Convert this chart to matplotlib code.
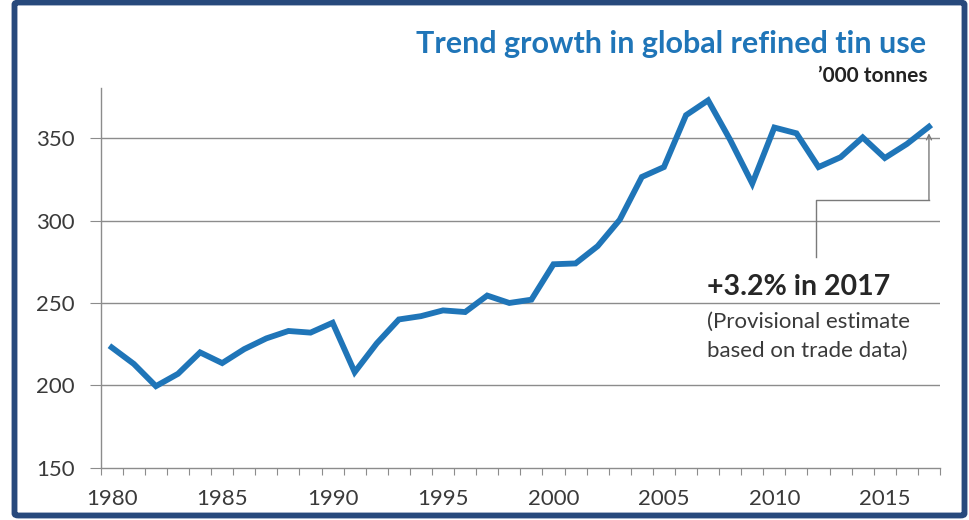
import matplotlib
matplotlib.use("Agg")
import matplotlib.pyplot as plt
from matplotlib.patches import FancyBboxPatch
import numpy as np

years = list(range(1980, 2018))
tin_use = [223, 213, 199.5, 207, 220, 213.5, 222, 228.5, 233, 232, 238,
           208, 225.5, 240, 242, 245.5, 244.5, 254.5, 250, 252,
           273.5, 274, 284.5, 300.5, 326.5, 332.5, 364, 373, 349, 322.5,
           356.5, 353, 332.5, 338.5, 350.5, 338, 346.5, 357]
yticks = [150, 200, 250, 300, 350]
xtick_labels = ["1980", "1985", "1990", "1995", "2000", "2005", "2010", "2015"]

title = "Trend growth in global refined tin use"
subtitle = "\u2019000 tonnes"
note_main = "+3.2% in 2017"
note_sub1 = "(Provisional estimate"
note_sub2 = "based on trade data)"

plt.rcParams['font.family'] = ['Lato', 'DejaVu Sans']

W, H = 969, 520
fig = plt.figure(figsize=(W/100, H/100), dpi=100)

blue = "#1f75b8"
grid_c = "#8c8c8c"
txt_c = "#3a3a3a"

# border
border = FancyBboxPatch((14.5/W, 4.5/H), (964.5-14.5)/W, (517.5-4.5)/H,
                        boxstyle="round,pad=0,rounding_size=0.004",
                        transform=fig.transFigure, fill=False,
                        edgecolor="#27497c", linewidth=4.2, zorder=0)
fig.patches.append(border)

left, right, top, bottom = 100.7, 940, 88, 467.7
ax = fig.add_axes([left/W, 1-bottom/H, (right-left)/W, (bottom-top)/H])
x = np.arange(len(years))
ax.plot(x, tin_use, color=blue, lw=4.2, solid_joinstyle='miter', zorder=3)

ax.set_xlim(-0.5, len(years)-0.5)
ax.set_ylim(150, 380.5)
ax.set_yticks(yticks)
ax.set_yticklabels([str(v) for v in yticks], fontsize=16, color=txt_c)
for v in yticks[1:]:
    ax.axhline(v, color=grid_c, lw=1.0, zorder=1)

ax.set_xticks(np.arange(len(years)+1)-0.5)
ax.set_xticklabels([])
lab_pos = [years.index(int(l)) for l in xtick_labels]
ax.set_xticks(lab_pos, minor=True)
ax.set_xticklabels(xtick_labels, minor=True, fontsize=16, color=txt_c)
ax.tick_params(axis='x', which='major', length=5, color=grid_c, direction='out')
ax.tick_params(axis='x', which='minor', length=0, pad=15.5)
ax.tick_params(axis='y', length=8, color=grid_c, pad=10.5)

for s in ['top', 'right']:
    ax.spines[s].set_visible(False)
for s in ['left', 'bottom']:
    ax.spines[s].set_color(grid_c)
    ax.spines[s].set_linewidth(1.0)

# annotation connector
i17 = years.index(2017)
i_mid = i17 - (928 - 815) / 22.08
y_horiz = 350 - (200 - 138.3) / 1.6466
y_low = 350 - (256.7 - 138.3) / 1.6466
ax.plot([i_mid, i_mid, i17], [y_low, y_horiz, y_horiz], color="#7a7a7a", lw=1.0, zorder=2)
ax.annotate("", xy=(i17, tin_use[-1] - 4), xytext=(i17, y_horiz),
            arrowprops=dict(arrowstyle="->", color="#7a7a7a", lw=1.0,
                            shrinkA=0, shrinkB=0, mutation_scale=9), zorder=2)

fig.text(707/W, 1-295/H, note_main, fontsize=20.5, fontweight='bold', color="#262626",
         ha='left', va='baseline')
fig.text(707/W, 1-328/H, note_sub1, fontsize=16, color="#3a3a3a",
         ha='left', va='baseline')
fig.text(707/W, 1-356.5/H, note_sub2, fontsize=16, color="#3a3a3a",
         ha='left', va='baseline')

fig.text(926/W, 1-53/H, title, fontsize=22, fontweight='bold', color=blue,
         ha='right', va='baseline')
fig.text(927/W, 1-82/H, subtitle, fontsize=15, fontweight='bold', color="#222222",
         ha='right', va='baseline')

fig.savefig("out.png", dpi=100)
